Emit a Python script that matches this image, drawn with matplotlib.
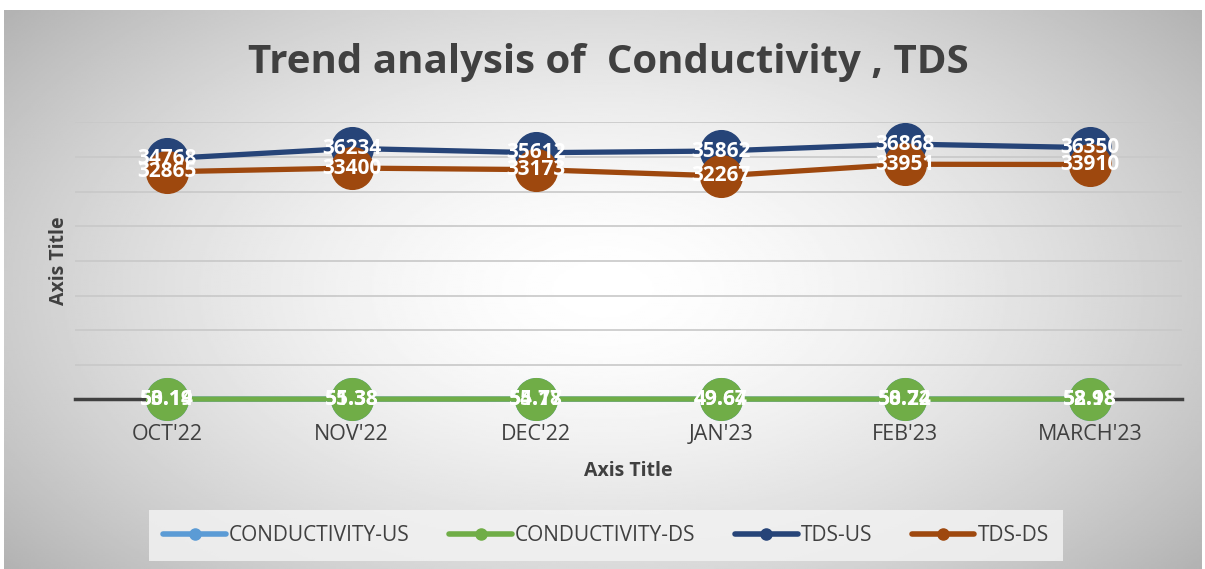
import numpy as np
import matplotlib
matplotlib.use("Agg")
import matplotlib.pyplot as plt
from matplotlib.lines import Line2D

plt.rcParams['font.family'] = ['Open Sans', 'DejaVu Sans']

months = ["OCT'22", "NOV'22", "DEC'22", "JAN'23", "FEB'23", "MARCH'23"]
cond_us = [53.19, 55.38, 54.17, 49.67, 58.24, 58.98]
cond_ds = [50.14, 51.38, 55.78, 49.64, 50.72, 52.18]
tds_us = [34768, 36234, 35612, 35862, 36868, 36350]
tds_ds = [32865, 33400, 33173, 32267, 33951, 33910]

series = [
    ("CONDUCTIVITY-US", cond_us, "#5b9bd5"),
    ("CONDUCTIVITY-DS", cond_ds, "#70ad47"),
    ("TDS-US", tds_us, "#264478"),
    ("TDS-DS", tds_ds, "#9e480e"),
]

fig = plt.figure(figsize=(12.05, 5.69), dpi=100)
fig.patch.set_facecolor("white")

# radial grey background
bg = fig.add_axes([0.003, 0, 0.994, 0.982])
yy, xx = np.mgrid[0:1:300j, 0:1:600j]
r = np.sqrt(((xx - 0.5) / 0.62) ** 2 + ((yy - 0.5) / 0.75) ** 2)
shade = 1.0 - 0.28 * np.clip(r, 0, 1.2) ** 1.6
bg.imshow(shade, cmap="gray", vmin=0, vmax=1, aspect="auto", extent=[0, 1, 0, 1])
bg.set_axis_off()

ax = fig.add_axes([0.062, 0.298, 0.919, 0.487])
ax.set_facecolor("none")
x = np.arange(len(months))
for name, vals, col in series:
    ax.plot(x, vals, color=col, lw=3.8, marker="o", ms=30, solid_capstyle="round",
            zorder=3, clip_on=False)
    for xi, v in zip(x, vals):
        ax.text(xi, v, f"{v:g}", color="white", fontsize=15, fontweight="bold",
                ha="center", va="center", zorder=4, clip_on=False)

ax.set_xlim(-0.5, len(months) - 0.5)
ax.set_ylim(0, 40000)
ax.set_yticks(np.arange(0, 40001, 5000))
ax.yaxis.grid(True, color="#c8c8c8", lw=1.2)
ax.set_axisbelow(True)
ax.tick_params(axis="y", left=False, labelleft=False)
ax.tick_params(axis="x", bottom=False, labelsize=15.5, labelcolor="#404040", pad=14)
ax.set_xticks(x)
ax.set_xticklabels(months)
for s in ["top", "right", "left"]:
    ax.spines[s].set_visible(False)
ax.spines["bottom"].set_color("#404040")
ax.spines["bottom"].set_linewidth(2.5)
ax.spines["bottom"].set_zorder(2)

ax.set_xlabel("Axis Title", fontsize=14, fontweight="bold", color="#404040", labelpad=12)
ax.set_ylabel("Axis Title", fontsize=14, fontweight="bold", color="#404040", labelpad=4)

fig.text(0.505, 0.891, "Trend analysis of  Conductivity , TDS", ha="center", va="center",
         fontsize=29, fontweight="bold", color="#404040")

handles = [Line2D([0], [0], color=c, lw=4, marker="o", ms=8, solid_capstyle="round")
           for _, _, c in series]
leg = fig.legend(handles, [s[0] for s in series], loc="center", bbox_to_anchor=(0.503, 0.059),
                 ncol=4, frameon=True, fontsize=15, handlelength=3.0, handletextpad=0.15,
                 columnspacing=1.9, borderpad=0.7, fancybox=False)
leg.get_frame().set_facecolor("#f2f2f2")
leg.get_frame().set_edgecolor("none")
leg.get_frame().set_alpha(0.85)
for t in leg.get_texts():
    t.set_color("#404040")

fig.savefig("out.png", dpi=100)
